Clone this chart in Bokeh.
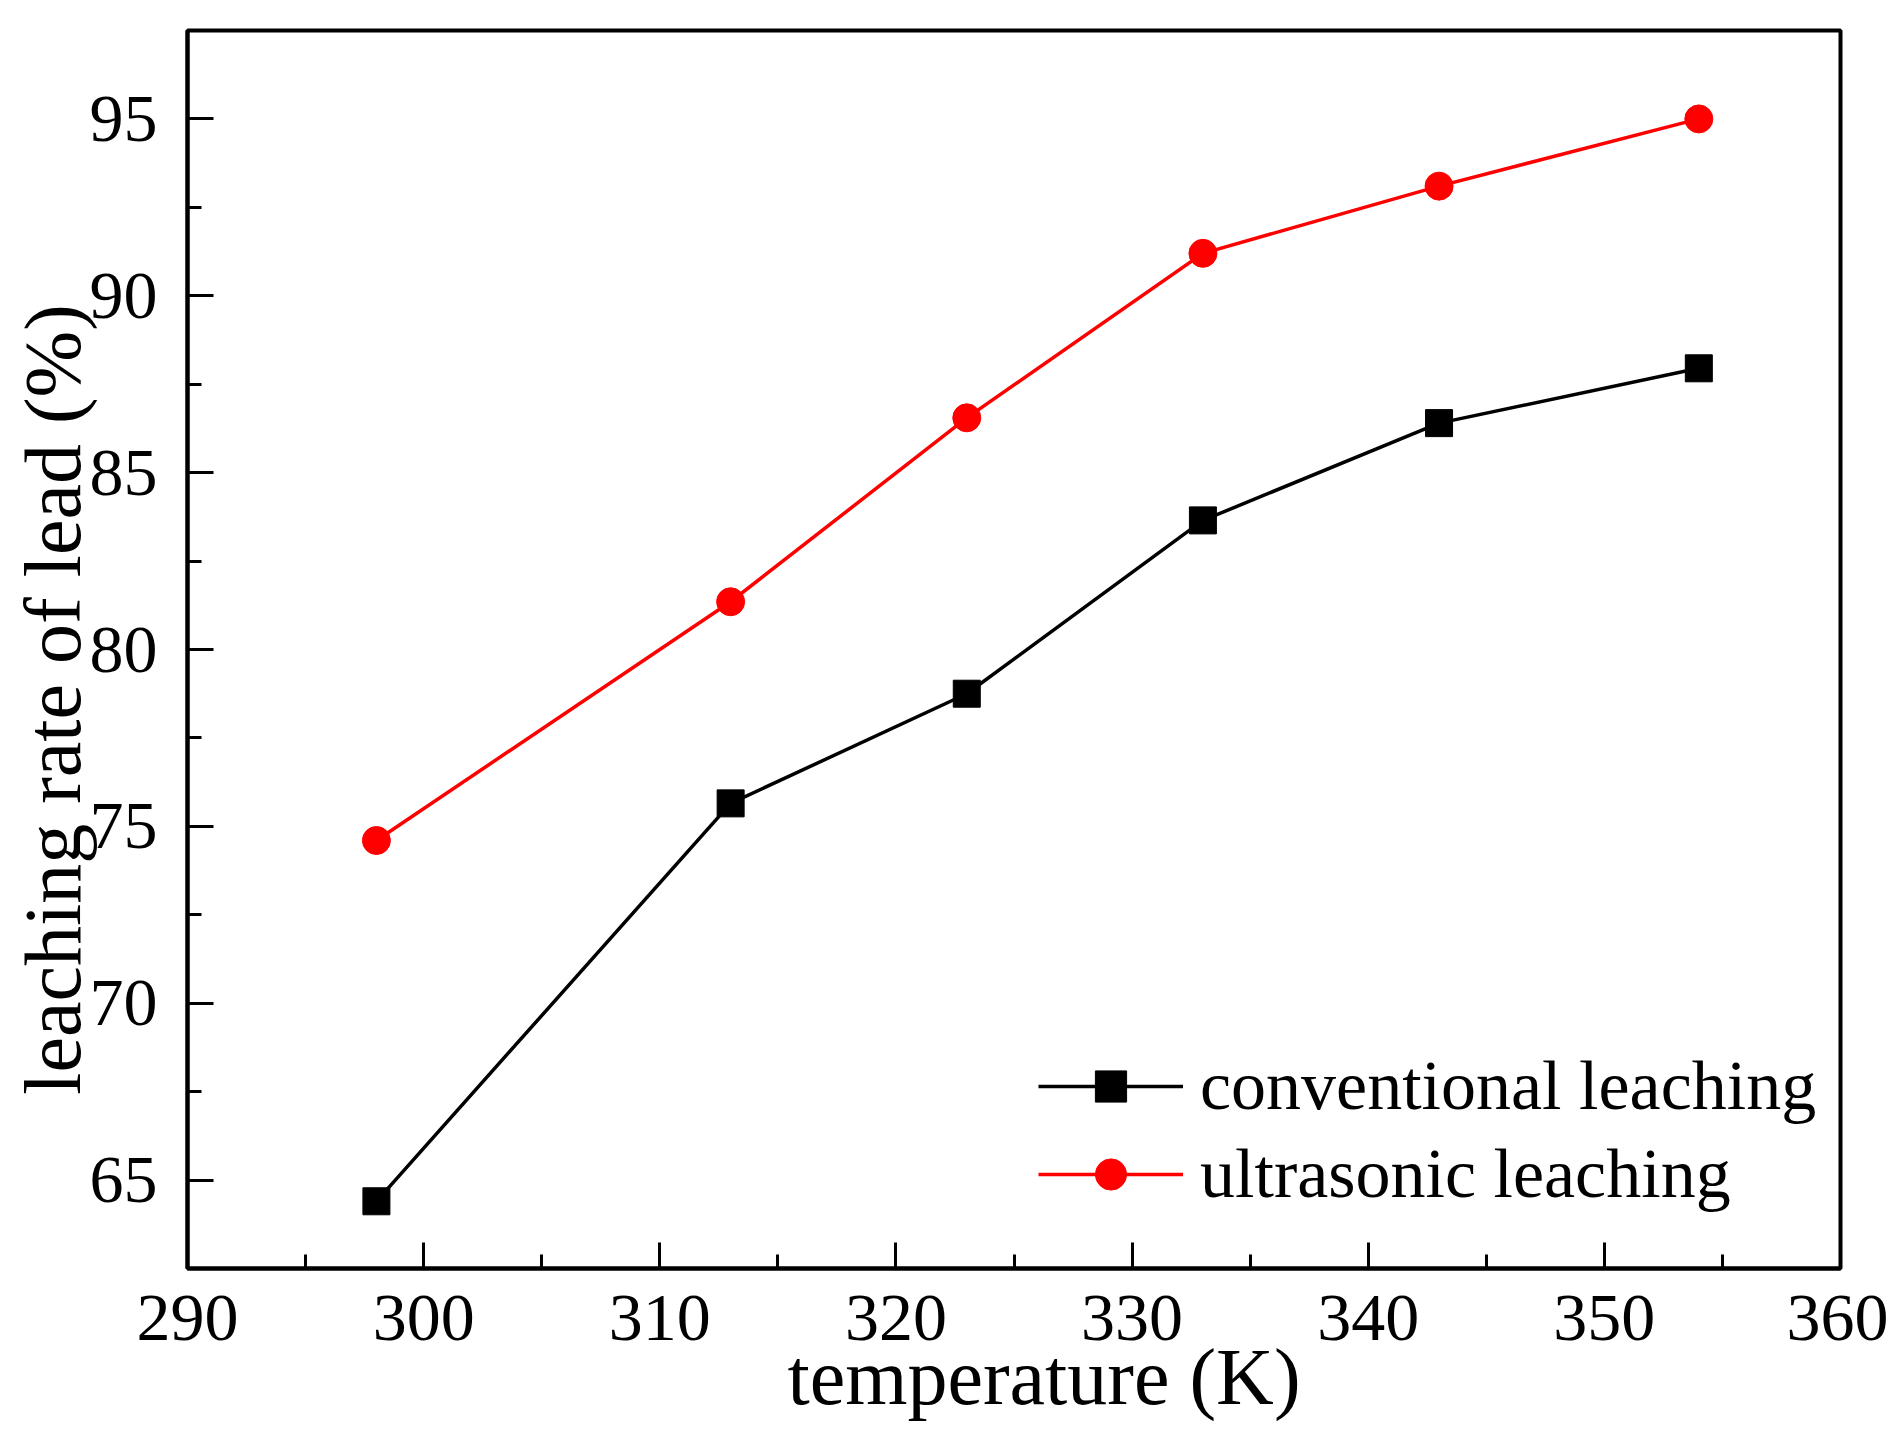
from bokeh.plotting import figure
from bokeh.models import Range1d, SingleIntervalTicker, Legend, LegendItem
from bokeh.embed import file_html
from bokeh.resources import INLINE

# Data
temperature = [298, 313, 323, 333, 343, 354]
conventional = [64.4, 75.65, 78.75, 83.65, 86.4, 87.95]
ultrasonic = [74.6, 81.35, 86.55, 91.2, 93.1, 95.0]

x_label = "temperature (K)"
y_label = "leaching rate of lead (%)"
series_names = ["conventional leaching", "ultrasonic leaching"]

FONT = "Liberation Serif"
NBSP = "\u00a0"

p = figure(width=1888, height=1439,
           x_range=Range1d(290, 360), y_range=Range1d(62.5, 97.5),
           output_backend="svg", toolbar_location=None,
           min_border_left=187, min_border_right=48,
           min_border_top=30, min_border_bottom=171)

p.background_fill_color = "white"
p.border_fill_color = "white"
p.outline_line_color = "black"
p.outline_line_width = 4
p.xgrid.visible = False
p.ygrid.visible = False

p.xaxis.ticker = SingleIntervalTicker(interval=10, num_minor_ticks=2)
p.yaxis.ticker = SingleIntervalTicker(interval=5, num_minor_ticks=2)

for ax in (p.xaxis[0], p.yaxis[0]):
    ax.axis_line_width = 4
    ax.axis_line_color = "black"
    ax.major_tick_in = 26
    ax.major_tick_out = 0
    ax.minor_tick_in = 14
    ax.minor_tick_out = 0
    ax.major_tick_line_width = 3
    ax.minor_tick_line_width = 3
    ax.major_tick_line_color = "black"
    ax.minor_tick_line_color = "black"
    ax.major_label_text_font = FONT
    ax.major_label_text_font_size = "68px"
    ax.major_label_text_color = "black"
    ax.axis_label_text_font = FONT
    ax.axis_label_text_font_size = "80px"
    ax.axis_label_text_font_style = "normal"
    ax.axis_label_text_color = "black"

# the reference's titles sit slightly off-centre; non-breaking spaces shift them
p.xaxis.axis_label = NBSP * 3 + x_label
p.yaxis.axis_label = y_label + NBSP * 5
p.xaxis.major_label_standoff = 27
p.xaxis.axis_label_standoff = -10
p.yaxis.major_label_standoff = 30
p.yaxis.axis_label_standoff = -10

l1 = p.line(temperature, conventional, line_color="black", line_width=3.5)
m1 = p.scatter(temperature, conventional, marker="square", size=27,
               fill_color="black", line_color="black")
l2 = p.line(temperature, ultrasonic, line_color="red", line_width=3.5)
m2 = p.scatter(temperature, ultrasonic, marker="circle", size=28,
               fill_color="red", line_color="red")

legend = Legend(items=[LegendItem(label=series_names[0], renderers=[l1, m1]),
                       LegendItem(label=series_names[1], renderers=[l2, m2])],
                location=(851, 54))
legend.label_text_font = FONT
legend.label_text_font_size = "70px"
legend.label_text_color = "black"
legend.glyph_width = 145
legend.glyph_height = 78
legend.label_height = 78
legend.label_standoff = 17
legend.spacing = 8
legend.padding = 0
legend.margin = 0
legend.border_line_color = None
legend.background_fill_alpha = 0
p.add_layout(legend, "center")

open("out.html", "w").write(file_html(p, INLINE))
